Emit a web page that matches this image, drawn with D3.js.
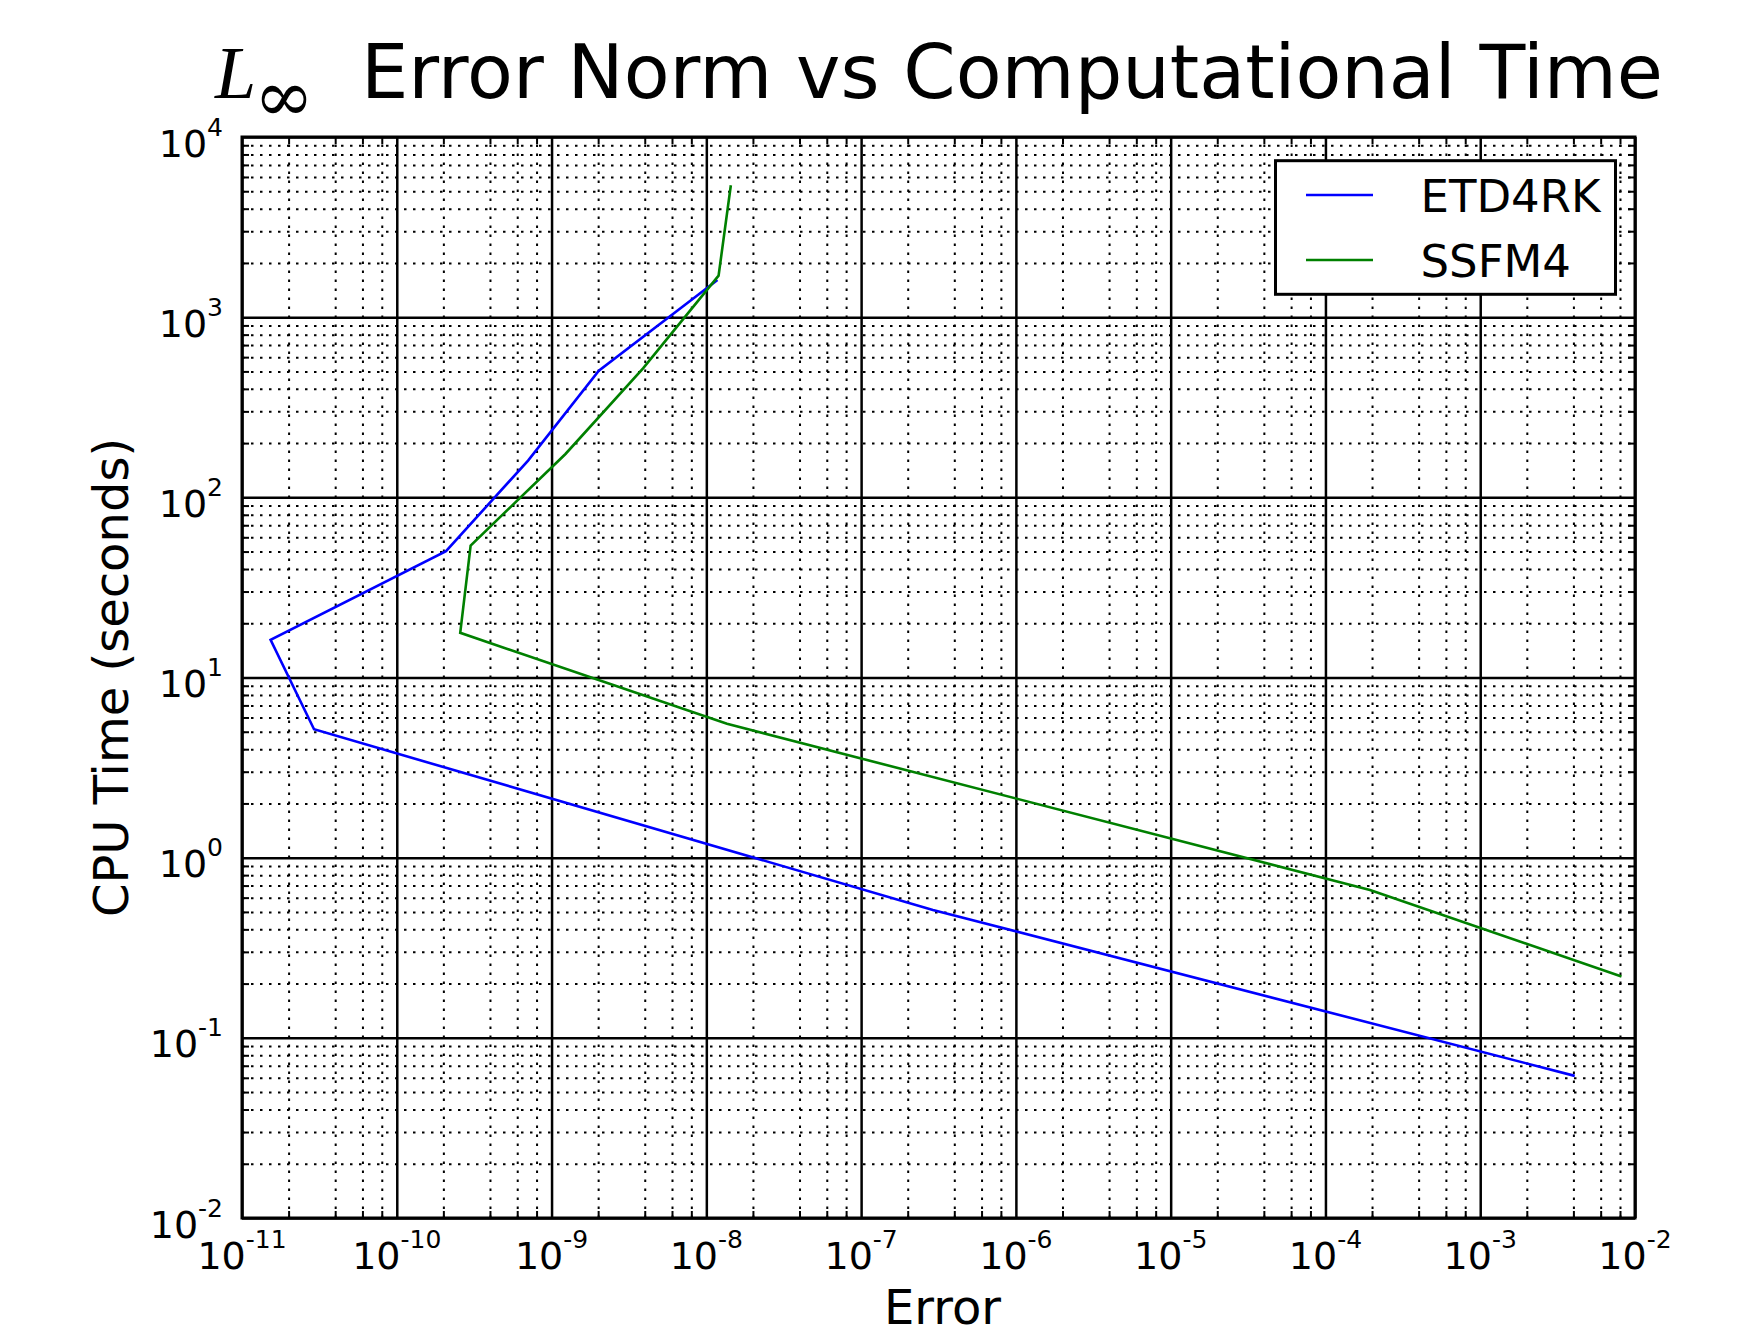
<!DOCTYPE html>
<html>
<head>
<meta charset="utf-8">
<script src="https://cdn.jsdelivr.net/npm/d3@7"></script>
<style>
  body { margin: 0; background: #fff; }
  svg { font-family: "DejaVu Sans", sans-serif; }
  text { fill: #000; }
</style>
</head>
<body>
<div id="plot"></div>
<script>
// Data (Error vs CPU time)
const etdError = [1.18e-8, 2.02e-9, 7.05e-10, 2.08e-10, 1.53e-11, 2.92e-11, 2.91e-7, 4.08e-3];
const etdTime  = [1607, 504, 160, 50.3, 16.2, 5.16, 0.513, 0.0615];
const ssfmError = [1.44e-8, 1.2e-8, 3.9e-9, 1.23e-9, 3.0e-10, 2.57e-10, 1.36e-8, 1.94e-4, 8.18e-3];
const ssfmTime  = [5400, 1700, 520, 174, 54, 17.7, 5.53, 0.662, 0.219];

const seriesNames = ["ETD4RK", "SSFM4"];
const seriesColors = ["#0000ff", "#008000"];

// Tick exponents
const xTickExps = [-11, -10, -9, -8, -7, -6, -5, -4, -3, -2];
const yTickExps = [-2, -1, 0, 1, 2, 3, 4];
const xMinorSubs = [2, 4, 6, 8];
const yMinorSubs = [2, 3, 4, 5, 6, 7, 8, 9];

const W = 1737, H = 1336;
const margin = { top: 137, right: 102, bottom: 118, left: 242 };
const width = W - margin.left - margin.right;
const height = H - margin.top - margin.bottom;

const svg = d3.select("#plot").append("svg")
  .attr("width", W)
  .attr("height", H);

const g = svg.append("g")
  .attr("transform", `translate(${margin.left},${margin.top})`);

const x = d3.scaleLog().domain([1e-11, 1e-2]).range([0, width]);
const y = d3.scaleLog().domain([1e-2, 1e4]).range([height, 0]);

const xMajor = xTickExps.map(e => Math.pow(10, e));
const yMajor = yTickExps.map(e => Math.pow(10, e));
const xMinor = [];
xTickExps.slice(0, -1).forEach(e => xMinorSubs.forEach(s => xMinor.push(s * Math.pow(10, e))));
const yMinor = [];
yTickExps.slice(0, -1).forEach(e => yMinorSubs.forEach(s => yMinor.push(s * Math.pow(10, e))));

// Minor grid (dotted)
g.append("g")
  .attr("class", "grid minor")
  .attr("transform", `translate(0,${height})`)
  .call(d3.axisBottom(x).tickValues(xMinor).tickSize(-height).tickFormat(""));
g.append("g")
  .attr("class", "grid minor")
  .call(d3.axisLeft(y).tickValues(yMinor).tickSize(-width).tickFormat(""));

// Major grid (solid)
g.append("g")
  .attr("class", "grid major")
  .attr("transform", `translate(0,${height})`)
  .call(d3.axisBottom(x).tickValues(xMajor).tickSize(-height).tickFormat(""));
g.append("g")
  .attr("class", "grid major")
  .call(d3.axisLeft(y).tickValues(yMajor).tickSize(-width).tickFormat(""));

g.selectAll(".grid .domain").remove();
g.selectAll(".grid.minor line")
  .attr("stroke", "#000")
  .attr("stroke-width", 2)
  .attr("stroke-dasharray", "2.5,6.5");
g.selectAll(".grid.major line")
  .attr("stroke", "#000")
  .attr("stroke-width", 2.5);

// Inward minor ticks on all four sides
const tickGroups = [
  [d3.axisBottom(x).tickValues(xMinor), `translate(0,${height})`],
  [d3.axisTop(x).tickValues(xMinor), null],
  [d3.axisLeft(y).tickValues(yMinor), null],
  [d3.axisRight(y).tickValues(yMinor), `translate(${width},0)`]
];
tickGroups.forEach(([ax, tr]) => {
  const t = g.append("g").attr("class", "ticks");
  if (tr) t.attr("transform", tr);
  t.call(ax.tickSize(-7).tickFormat(""));
});
g.selectAll(".ticks .domain").remove();
g.selectAll(".ticks line").attr("stroke", "#000").attr("stroke-width", 2);

// Series lines
const series = [
  { name: seriesNames[0], color: seriesColors[0], pts: etdError.map((e, i) => [e, etdTime[i]]) },
  { name: seriesNames[1], color: seriesColors[1], pts: ssfmError.map((e, i) => [e, ssfmTime[i]]) }
];
const line = d3.line().x(d => x(d[0])).y(d => y(d[1]));
g.selectAll(".series")
  .data(series)
  .join("path")
  .attr("class", "series")
  .attr("d", d => line(d.pts))
  .attr("fill", "none")
  .attr("stroke", d => d.color)
  .attr("stroke-width", 2.6)
  .attr("stroke-linejoin", "miter");

// Frame
g.append("rect")
  .attr("width", width)
  .attr("height", height)
  .attr("fill", "none")
  .attr("stroke", "#000")
  .attr("stroke-width", 3);

// X tick labels
const xLab = g.append("g").selectAll("text")
  .data(xTickExps)
  .join("text")
  .attr("x", d => x(Math.pow(10, d)))
  .attr("y", height + 51)
  .attr("text-anchor", "middle")
  .attr("font-size", 38);
xLab.append("tspan").text("10");
xLab.append("tspan").attr("dy", -21).attr("font-size", 25).text(d => d);

// Y tick labels
const yLab = g.append("g").selectAll("text")
  .data(yTickExps)
  .join("text")
  .attr("x", -19)
  .attr("y", d => y(Math.pow(10, d)) + 19.5)
  .attr("text-anchor", "end")
  .attr("font-size", 38);
yLab.append("tspan").text("10");
yLab.append("tspan").attr("dy", -21).attr("font-size", 25).text(d => d);

// Axis titles
g.append("text")
  .attr("x", width / 2 + 4)
  .attr("y", height + 106)
  .attr("text-anchor", "middle")
  .attr("font-size", 48)
  .text("Error");

g.append("text")
  .attr("transform", `translate(${-114},${height / 2}) rotate(-90)`)
  .attr("text-anchor", "middle")
  .attr("font-size", 48)
  .text("CPU Time (seconds)");

// Title: L_inf Error Norm vs Computational Time
const title = svg.append("g");
title.append("text")
  .attr("x", 215)
  .attr("y", 98)
  .style("font-family", "'Liberation Serif', serif")
  .style("font-style", "italic")
  .attr("font-size", 74)
  .text("L");
title.append("text")
  .attr("x", 254)
  .attr("y", 121)
  .style("font-family", "'DejaVu Serif', serif")
  .attr("font-size", 72)
  .text("\u221E");
title.append("text")
  .attr("x", 1663)
  .attr("y", 98)
  .attr("text-anchor", "end")
  .attr("font-size", 75)
  .text("Error Norm vs Computational Time");

// Legend
const legend = svg.append("g")
  .attr("transform", "translate(1275.5,160.7)");
legend.append("rect")
  .attr("width", 340)
  .attr("height", 133.6)
  .attr("fill", "#fff")
  .attr("stroke", "#000")
  .attr("stroke-width", 3);
const item = legend.selectAll(".item")
  .data(series)
  .join("g")
  .attr("class", "item")
  .attr("transform", (d, i) => `translate(0,${34.3 + i * 65})`);
item.append("line")
  .attr("x1", 30.5).attr("x2", 97.5)
  .attr("stroke", d => d.color)
  .attr("stroke-width", 2.6);
item.append("text")
  .attr("x", 145)
  .attr("y", 16.7)
  .attr("font-size", 45)
  .text(d => d.name);
</script>
</body>
</html>
